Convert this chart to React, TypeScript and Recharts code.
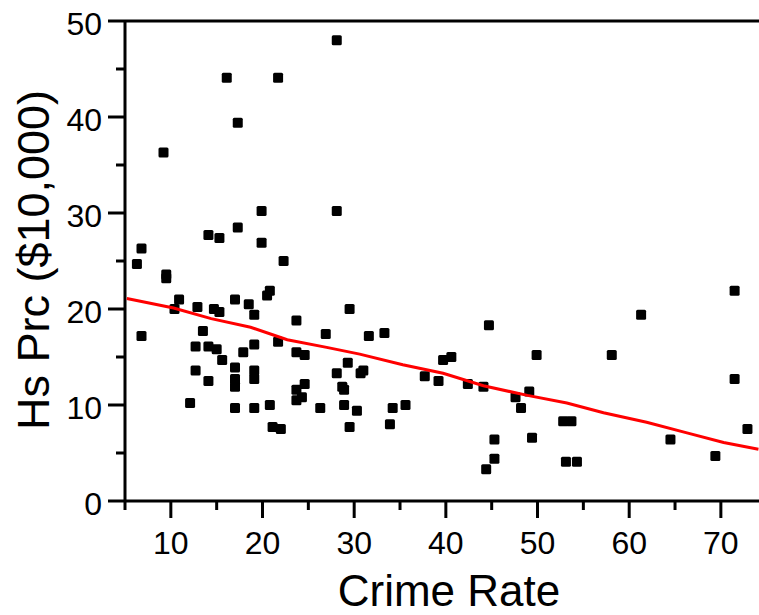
import React from 'react';
import { ScatterChart, Scatter, XAxis, YAxis, ReferenceLine } from 'recharts';

// crime rate (x) and house price in $10,000 (y)
const crimeRate: number[] = [
    28.1, 16.1, 21.7, 17.3, 9.2, 19.9, 28.1, 14.1, 15.3, 17.3,
    19.9, 6.8, 22.3, 6.3, 9.5, 9.5, 10.9, 10.4, 6.8, 12.9,
    14.7, 15.3, 17.0, 18.5, 19.1, 20.5, 20.8, 23.7, 29.5, 26.9,
    13.5, 12.7, 14.1, 15.0, 15.6, 17.9, 19.1, 21.7, 23.7, 24.6,
    29.3, 28.1, 30.7, 31.0, 12.7, 14.1, 17.0, 17.0, 17.0, 19.1,
    19.1, 12.1, 17.0, 19.1, 20.8, 21.1, 22.0, 23.7, 23.7, 24.3,
    24.6, 26.3, 28.7, 28.9, 28.9, 29.5, 30.3, 31.6, 33.3, 34.2,
    35.6, 33.9, 37.7, 39.2, 39.7, 40.6, 42.4, 44.1, 44.7, 45.3,
    45.3, 44.4, 47.6, 48.2, 49.1, 49.9, 49.4, 52.8, 53.7, 53.1,
    54.3, 71.5, 61.3, 58.1, 71.5, 72.9, 64.5, 69.4,
];
const housePrice: number[] = [
    48.0, 44.1, 44.1, 39.4, 36.3, 30.2, 30.2, 27.7, 27.4, 28.5,
    26.9, 26.3, 25.0, 24.7, 23.6, 23.2, 21.0, 20.0, 17.2, 20.2,
    20.0, 19.7, 21.0, 20.5, 19.4, 21.4, 21.9, 18.8, 20.0, 17.4,
    17.7, 16.1, 16.1, 15.8, 14.7, 15.5, 16.3, 16.6, 15.5, 15.2,
    14.4, 13.3, 13.3, 13.6, 13.6, 12.5, 13.9, 12.7, 11.9, 13.6,
    12.7, 10.2, 9.7, 9.7, 10.0, 7.7, 7.5, 11.6, 10.5, 10.8,
    12.2, 9.7, 11.9, 11.6, 10.0, 7.7, 9.4, 17.2, 17.5, 9.7,
    10.0, 8.0, 13.0, 12.5, 14.7, 15.0, 12.2, 11.9, 18.3, 6.4,
    4.4, 3.3, 10.8, 9.7, 11.4, 15.2, 6.6, 8.3, 8.3, 4.1,
    4.1, 21.9, 19.4, 15.2, 12.7, 7.5, 6.4, 4.7,
];

// smoothed fit curve
const fitX: number[] = [5.2, 10.3, 14.4, 18.7, 22.7, 27.0, 30.6, 35.3, 39.7, 44.1, 48.9, 53.2, 57.2, 61.9, 66.3, 70.3, 74.1];
const fitY: number[] = [21.1, 20.1, 19.0, 18.1, 16.8, 16.0, 15.3, 14.2, 13.3, 12.0, 11.0, 10.2, 9.2, 8.2, 7.1, 6.1, 5.4];

const xTicks: number[] = [5, 10, 15, 20, 25, 30, 35, 40, 45, 50, 55, 60, 65, 70];
const yTicks: number[] = [0, 5, 10, 15, 20, 25, 30, 35, 40, 45, 50];

const points = crimeRate.map((x, i) => ({ x, y: housePrice[i] }));
const fit = fitX.map((x, i) => ({ x, y: fitY[i] }));

const FONT = '"Liberation Sans", Arial, sans-serif';

const Square = (props: any) => {
    const { cx, cy } = props;
    return <rect x={cx - 5} y={cy - 5} width={10} height={10} rx={1.5} fill="#000" />;
};

const NoShape = () => <g />;

const XTick = (props: any) => {
    const { x, y, payload } = props;
    const major = payload.value % 10 === 0;
    return (
        <g>
            <line x1={x} x2={x} y1={y} y2={y + (major ? 17 : 9)} stroke="#000" strokeWidth={3} />
            {major && (
                <text x={x} y={y + 53} textAnchor="middle" fontSize={32} fill="#000" fontFamily={FONT}>
                    {payload.value}
                </text>
            )}
        </g>
    );
};

const YTick = (props: any) => {
    const { x, y, payload } = props;
    const major = payload.value % 10 === 0;
    return (
        <g>
            <line x1={x - (major ? 17 : 9)} x2={x} y1={y} y2={y} stroke="#000" strokeWidth={3} />
            {major && (
                <text x={x - 23} y={y + 14} textAnchor="end" fontSize={32} fill="#000" fontFamily={FONT}>
                    {payload.value}
                </text>
            )}
        </g>
    );
};

const XTitle = () => (
    <text x={449} y={606} textAnchor="middle" fontSize={44} fill="#000" fontFamily={FONT}>
        Crime Rate
    </text>
);

const YTitle = () => (
    <text transform="translate(49,260) rotate(-90)" textAnchor="middle" fontSize={45} fill="#000" fontFamily={FONT}>
        Hs Prc ($10,000)
    </text>
);

const App: React.FC = () => {
    return (
        <div style={{ position: 'absolute', left: 0, top: 0 }}>
            <ScatterChart width={759} height={615} margin={{ top: 21, right: 0, bottom: 0, left: 0 }}>
                <XAxis
                    type="number"
                    dataKey="x"
                    domain={[5, 74.16]}
                    allowDataOverflow
                    ticks={xTicks}
                    interval={0}
                    tick={<XTick />}
                    tickLine={false}
                    tickSize={0}
                    tickMargin={0}
                    axisLine={{ stroke: '#000', strokeWidth: 3 }}
                    height={114}
                    label={<XTitle />}
                />
                <YAxis
                    type="number"
                    dataKey="y"
                    domain={[0, 50]}
                    ticks={yTicks}
                    interval={0}
                    tick={<YTick />}
                    tickLine={false}
                    tickSize={0}
                    tickMargin={0}
                    axisLine={{ stroke: '#000', strokeWidth: 3 }}
                    width={125}
                    label={<YTitle />}
                />
                <ReferenceLine y={50} stroke="#000" strokeWidth={3} />
                <Scatter data={points} shape={<Square />} isAnimationActive={false} />
                <Scatter
                    data={fit}
                    shape={<NoShape />}
                    line={{ stroke: '#ff0000', strokeWidth: 3 }}
                    isAnimationActive={false}
                />
            </ScatterChart>
        </div>
    );
};

export default App;
